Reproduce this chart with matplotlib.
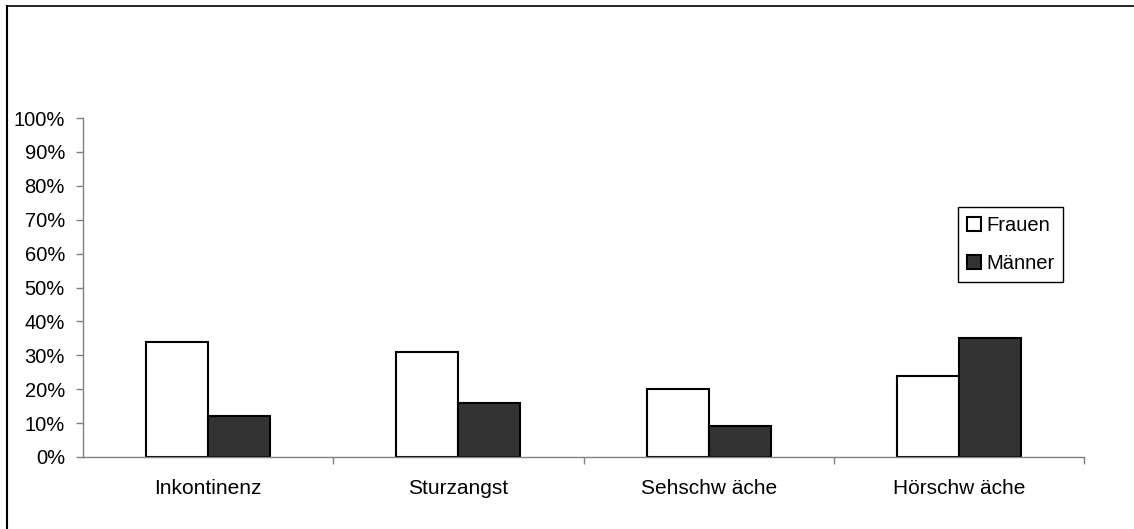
import matplotlib
matplotlib.use("Agg")
import matplotlib.pyplot as plt
import numpy as np
from matplotlib.lines import Line2D
from matplotlib.ticker import FixedLocator, PercentFormatter

plt.rcParams["font.family"] = ["Liberation Sans", "DejaVu Sans"]

categories = ["Inkontinenz", "Sturzangst", "Sehschw äche", "Hörschw äche"]
series_names = ["Frauen", "Männer"]
frauen = [34, 31, 20, 24]
maenner = [12, 16, 9, 35]

W, H = 1134, 529
fig = plt.figure(figsize=(W / 100, H / 100), dpi=100)
ax = fig.add_axes([83 / W, 1 - 457 / H, (1084 - 83) / W, (457 - 118) / H])

x = np.arange(len(categories))
bw = 0.248
ax.bar(x - bw / 2, frauen, bw, color="white", edgecolor="black", linewidth=1.5, label=series_names[0])
ax.bar(x + bw / 2, maenner, bw, color="#333333", edgecolor="black", linewidth=1.5, label=series_names[1])

ax.set_xlim(-0.5, len(categories) - 0.5)
ax.set_ylim(0, 100)
ax.set_yticks(np.arange(0, 101, 10))
ax.yaxis.set_major_formatter(PercentFormatter(decimals=0))
ax.tick_params(axis="y", labelsize=14.5, length=5, width=1, color="#808080", pad=8)

ax.set_xticks(x)
ax.set_xticklabels(categories)
ax.tick_params(axis="x", which="major", length=0, labelsize=15, pad=16)
ax.xaxis.set_minor_locator(FixedLocator(np.arange(0.5, len(categories), 1.0)))
ax.tick_params(axis="x", which="minor", length=5, width=1, color="#808080")

for side in ["top", "right"]:
    ax.spines[side].set_visible(False)
for side in ["left", "bottom"]:
    ax.spines[side].set_color("#808080")
    ax.spines[side].set_linewidth(1)

leg = ax.legend(loc="upper left", bbox_to_anchor=(0.874, 0.7375), borderaxespad=0,
                fontsize=14.5, fancybox=False, framealpha=1, edgecolor="black",
                handlelength=0.7, handleheight=0.7, handletextpad=0.25,
                labelspacing=0.95, borderpad=0.45)
leg.get_frame().set_linewidth(1)

# outer chart frame (only top and left edges are visible in the crop)
fig.add_artist(Line2D([7 / W, 1], [1 - 6 / H, 1 - 6 / H], transform=fig.transFigure, color="black", lw=1.2))
fig.add_artist(Line2D([7 / W, 7 / W], [0, 1 - 6 / H], transform=fig.transFigure, color="black", lw=1.5))

fig.savefig("out.png", dpi=100)
